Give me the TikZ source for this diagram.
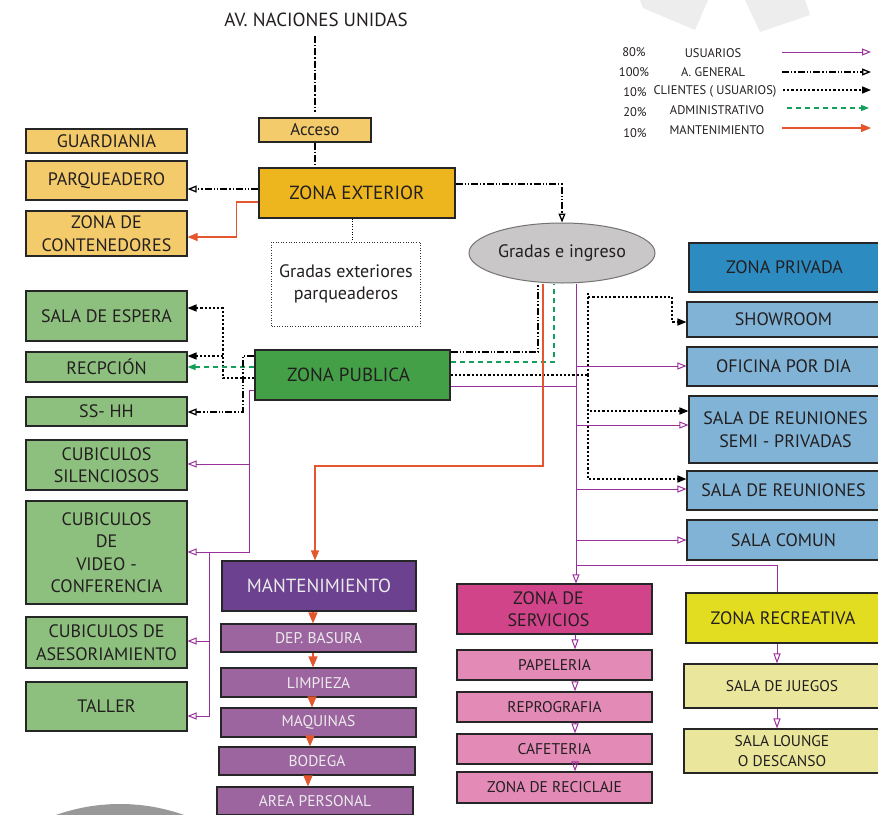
\documentclass[tikz,border=0pt]{standalone}
\usepackage{fontspec}
\setmainfont{PT Sans}
\usetikzlibrary{arrows.meta,backgrounds,shapes.geometric}
\definecolor{txt}{HTML}{231F20}
\definecolor{lorange}{HTML}{F4CB6B}
\definecolor{gold}{HTML}{EDB61E}
\definecolor{ellg}{HTML}{C9C7C7}
\definecolor{dblue}{HTML}{2C8CC2}
\definecolor{lblue}{HTML}{80B3D6}
\definecolor{dgreen}{HTML}{43A047}
\definecolor{lgreen}{HTML}{8DC07E}
\definecolor{dpurp}{HTML}{6B4190}
\definecolor{mpurp}{HTML}{9D65A0}
\definecolor{magen}{HTML}{D2448A}
\definecolor{lpink}{HTML}{E38AB7}
\definecolor{yel}{HTML}{E3DD22}
\definecolor{lyel}{HTML}{EAE69B}
\definecolor{purp}{HTML}{9B2F9B}
\definecolor{grn}{HTML}{13A05A}
\definecolor{orng}{HTML}{E4572E}
\newcommand\fs[1]{\fontsize{#1}{\dimexpr#1pt*5/4\relax}\selectfont}
\tikzset{
  bx/.style={draw=black!85, line width=1.1pt, inner sep=1pt, align=center, text=txt, font=\fs{18}},
  usr/.style={draw=purp, line width=1pt},
  opn/.style={-{Triangle[open,length=9pt,width=7pt]}},
  fil/.style={-{Triangle[length=9pt,width=7pt]}},
  gen/.style={line width=1.3pt, dash pattern=on 7pt off 2pt on 1.3pt off 2pt on 1.3pt off 2pt},
  cli/.style={line width=1.5pt, dash pattern=on 2.2pt off 2pt},
  adm/.style={draw=grn, line width=1.2pt, dash pattern=on 5pt off 4pt},
  mnt/.style={draw=orng, line width=1.2pt},
  leg/.style={text=txt, font=\fs{12.5}, inner sep=0pt},
  sm/.style={font=\fs{15.5}},
}
\begin{document}
\begin{tikzpicture}[x=1pt,y=-1pt]
\useasboundingbox (0,0) rectangle (878,814);
\begin{pgfonlayer}{background}
\fill[white] (0,0) rectangle (878,814);
\fill[black!7] (640,0) -- (643,8) -- (695,30) -- (708,0) -- cycle;
\fill[black!7] (745,0) -- (760,32) -- (810,15) -- (805,0) -- cycle;
\begin{scope}
\clip (0,0) rectangle (878,814);
\fill[black!40] (120,995) circle (191);
\end{scope}
\end{pgfonlayer}

% title
\node[text=txt, font=\fs{19}] (av) at (316,20) {AV. NACIONES UNIDAS};
\coordinate (avb) at (315,36);
\coordinate (avt) at (315,112);

% nodes
\node[bx, fill=lorange, minimum width=112, minimum height=24, font=\fs{17}] (acc) at (315,130) {Acceso};
\node[bx, fill=gold, minimum width=196, minimum height=50, font=\fs{19}] (ze) at (357,193) {ZONA EXTERIOR};
\node[bx, fill=lorange, minimum width=161, minimum height=24] (gu) at (106.5,141) {GUARDIANIA};
\node[bx, fill=lorange, minimum width=161, minimum height=39] (pq) at (106.5,180.5) {PARQUEADERO};
\node[bx, fill=lorange, minimum width=161, minimum height=45] (cont) at (106.5,233.5) {ZONA DE\\CONTENEDORES};
\node[draw=black!80, line width=1pt, dash pattern=on 1pt off 1.6pt, minimum width=149, minimum height=84, align=center, text=txt, font=\fs{18}] (gex) at (346,284) {Gradas exteriores\\parqueaderos};
\node[ellipse, draw=black!55, line width=1pt, fill=ellg, minimum width=186, minimum height=60, inner sep=0pt, text=txt, font=\fs{18}] (gr) at (562,253) {Gradas e ingreso};

\node[bx, fill=dblue, minimum width=191, minimum height=49] (zpr) at (784.5,267.5) {ZONA PRIVADA};
\node[bx, fill=lblue, minimum width=193, minimum height=35] (sh) at (783.5,319.5) {SHOWROOM};
\node[bx, fill=lblue, minimum width=193, minimum height=39] (of) at (783.5,366.5) {OFICINA POR DIA};
\node[bx, fill=lblue, minimum width=193, minimum height=67] (srp) at (785.5,429.5) {SALA DE REUNIONES\\SEMI - PRIVADAS};
\node[bx, fill=lblue, minimum width=193, minimum height=39] (sr) at (783.5,490.5) {SALA DE REUNIONES};
\node[bx, fill=lblue, minimum width=193, minimum height=40] (sc) at (783.5,540) {SALA COMUN};

\node[bx, fill=dgreen, minimum width=195, minimum height=50, font=\fs{19}] (zp) at (352.5,375) {ZONA PUBLICA\hspace*{8pt}};
\node[bx, fill=lgreen, minimum width=161, minimum height=50] (se) at (106.5,316) {SALA DE ESPERA};
\node[bx, fill=lgreen, minimum width=161, minimum height=30] (rec) at (106.5,367) {RECPCIÓN};
\node[bx, fill=lgreen, minimum width=161, minimum height=29] (ss) at (106.5,411.5) {SS- HH};
\node[bx, fill=lgreen, minimum width=161, minimum height=50] (cs) at (106.5,465) {CUBICULOS\\SILENCIOSOS};
\node[bx, fill=lgreen, minimum width=161, minimum height=103, font=\fs{18}] (vid) at (106.5,552.5) {CUBICULOS\\DE\\VIDEO -\\CONFERENCIA};
\node[bx, fill=lgreen, minimum width=161, minimum height=51] (ase) at (106.5,642.5) {CUBICULOS DE\\ASESORIAMIENTO};
\node[bx, fill=lgreen, minimum width=161, minimum height=49] (tal) at (106.5,706.5) {TALLER};

\node[bx, fill=dpurp, text=white!92!black, minimum width=194, minimum height=50, font=\fs{19}] (mt) at (319,586) {MANTENIMIENTO};
\node[bx, sm, fill=mpurp, text=white!92!black, minimum width=195, minimum height=28] (db) at (318.5,638) {DEP. BASURA};
\node[bx, sm, fill=mpurp, text=white!92!black, minimum width=195, minimum height=29] (li) at (318.5,682.5) {LIMPIEZA};
\node[bx, sm, fill=mpurp, text=white!92!black, minimum width=195, minimum height=29] (mq) at (318.5,722.5) {MAQUINAS};
\node[bx, sm, fill=mpurp, text=white!92!black, minimum width=196, minimum height=28] (bo) at (317,761) {BODEGA};
\node[bx, sm, fill=mpurp, text=white!92!black, minimum width=196, minimum height=28] (ap) at (315,801) {AREA PERSONAL};

\node[bx, fill=magen, minimum width=195, minimum height=50] (zs) at (554.5,609) {ZONA DE\hspace*{12pt}\\SERVICIOS\hspace*{12pt}};
\node[bx, sm, fill=lpink, minimum width=195, minimum height=30] (pa) at (554.5,665) {PAPELERIA};
\node[bx, sm, fill=lpink, minimum width=195, minimum height=30] (re) at (554.5,707) {REPROGRAFIA};
\node[bx, sm, fill=lpink, minimum width=195, minimum height=30] (ca) at (554.5,749) {CAFETERIA};
\node[bx, sm, fill=lpink, minimum width=195, minimum height=31] (zr2) at (554.5,787.5) {ZONA DE RECICLAJE};

\node[bx, fill=yel, minimum width=194, minimum height=50] (zr) at (783,618) {ZONA RECREATIVA};
\node[bx, sm, fill=lyel, minimum width=196, minimum height=44] (sj) at (782,686) {SALA DE JUEGOS};
\node[bx, sm, fill=lyel, minimum width=196, minimum height=44] (sl) at (782,751) {SALA LOUNGE\\O DESCANSO};

% legend
\node[leg] (p1) at (634,52) {80\%};
\node[leg] (p2) at (634,72) {100\%};
\node[leg] (p3) at (635,92) {10\%};
\node[leg] (p4) at (635,112) {20\%};
\node[leg] (p5) at (635,133) {10\%};
\node[leg] (t1) at (713,53) {USUARIOS};
\node[leg] (t2) at (713,72) {A. GENERAL};
\node[leg] (t3) at (715,91) {CLIENTES ( USUARIOS)};
\node[leg] (t4) at (717,110) {ADMINISTRATIVO};
\node[leg] (t5) at (717,130) {MANTENIMIENTO};
\coordinate (l1a) at (782,52); \coordinate (l1b) at (871,52);
\coordinate (l2a) at (782,72); \coordinate (l2b) at (871,72);
\coordinate (l3a) at (783,90); \coordinate (l3b) at (871,90);
\coordinate (l4a) at (787,108); \coordinate (l4b) at (869,108);
\coordinate (l5a) at (782,128); \coordinate (l5b) at (871,128);
\draw[usr,opn] (l1a) -- (l1b);
\draw[gen,opn] (l2a) -- (l2b);
\draw[cli,fil] (l3a) -- (l3b);
\draw[adm,-{Triangle[length=8pt,width=6pt]},grn] (l4a) -- (l4b);
\draw[mnt,-{Triangle[length=10pt,width=8pt]},orng] (l5a) -- (l5b);

% connectors (behind the nodes)
\begin{pgfonlayer}{background}
\draw[gen, dash pattern=on 7pt off 2pt on 1.3pt off 2pt] (avb) -- (avt);
\draw[gen, dash pattern=on 7pt off 2pt on 1.3pt off 2pt] (acc.south) -- (acc.south |- ze.north);
\draw[gen,opn] (ze.west |- 0,189) -- (pq.east |- 0,189);
\draw[mnt,-{Triangle[length=10pt,width=8pt]},orng] (ze.west |- 0,202) -- ++(-22,0) |- (cont.east |- 0,237);
\draw[line width=1pt, dash pattern=on 1pt off 1.6pt] (ze.south -| 352,0) -- (gex.north -| 352,0);
\draw[gen,opn] (ze.east |- 0,184) -| (gr.north);

% zona publica right side
\draw[gen] (zp.east |- 0,352) -| (gr.south -| 538,0);
\draw[adm] (zp.east |- 0,362) -| (gr.south -| 554,0);
\coordinate (cj) at (588,375);
\draw[cli] (zp.east |- 0,375) -- (cj);
\draw[cli,fil] (cj) -- (588,292) |- (672,297) |- (sh.west |- 0,322);
\draw[cli,fil] (cj) |- (srp.west |- 0,411);
\draw[cli,fil] (cj) |- (sr.west |- 0,479);
\coordinate (pv) at (576,386);
\draw[usr] (zp.east |- 0,386) -- (pv);
\draw[usr,opn] (gr.south -| 576,0) -- (zs.north -| 576,0);
\draw[usr,opn] (576,366) -- (of.west |- 0,366);
\draw[usr,opn] (576,425) -- (srp.west |- 0,425);
\draw[usr,opn] (576,489) -- (sr.west |- 0,489);
\draw[usr,opn] (576,540) -- (sc.west |- 0,540);
\draw[usr] (576,565) -| (zr.north -| 777,0);
\draw[mnt,-{Triangle[length=10pt,width=8pt]},orng] (gr.south -| 543,0) -- (543,466) -| (mt.north -| 315,0);

% zona publica left side
\coordinate (lj) at (223,356);
\draw[cli,fil] (zp.west |- 0,378) -- (223,378) |- (se.east |- 0,308);
\draw[cli,fil] (lj) -- (rec.east |- 0,356);
\draw[adm,-{Triangle[length=8pt,width=6pt]},grn] (zp.west |- 0,367) -- (rec.east |- 0,367);
\draw[gen,opn] (zp.west |- 0,356) -- (243,356) |- (ss.east |- 0,412);
\draw[usr,opn] (zp.west |- 0,390) -- (249,390) |- (vid.east |- 0,552);
\draw[usr,opn] (249,464) -- (cs.east |- 0,464);
\draw[usr,opn] (209,552) |- (tal.east |- 0,716);
\draw[usr,opn] (209,641) -- (ase.east |- 0,641);
\end{pgfonlayer}

% chains
\tikzset{mchain/.style={mnt,-{Triangle[length=11pt,width=9pt]},orng}}
\draw[mchain] (mt.south -| 313,0) -- (db.north -| 313,0);
\draw[mchain] (db.south -| 313,0) -- (li.north -| 313,0);
\draw[mchain] (li.south -| 312,0) -- (mq.north -| 312,0);
\draw[mchain] (mq.south -| 310,0) -- (bo.north -| 310,0);
\draw[mchain] (bo.south -| 308,0) -- (ap.north -| 308,0);
\tikzset{pchain/.style={usr,-{Triangle[open,length=10pt,width=7pt]}}}
\draw[pchain] (zs.south -| 575,0) -- (pa.north -| 575,0);
\draw[pchain] (pa.south -| 575,0) -- (re.north -| 575,0);
\draw[pchain] (re.south -| 575,0) -- (ca.north -| 575,0);
\draw[pchain] (ca.south -| 575,0) -- (zr2.north -| 575,0);
\draw[pchain] (zr.south -| 777,0) -- (sj.north -| 777,0);
\draw[pchain] (sj.south -| 777,0) -- (sl.north -| 777,0);
\end{tikzpicture}
\end{document}
